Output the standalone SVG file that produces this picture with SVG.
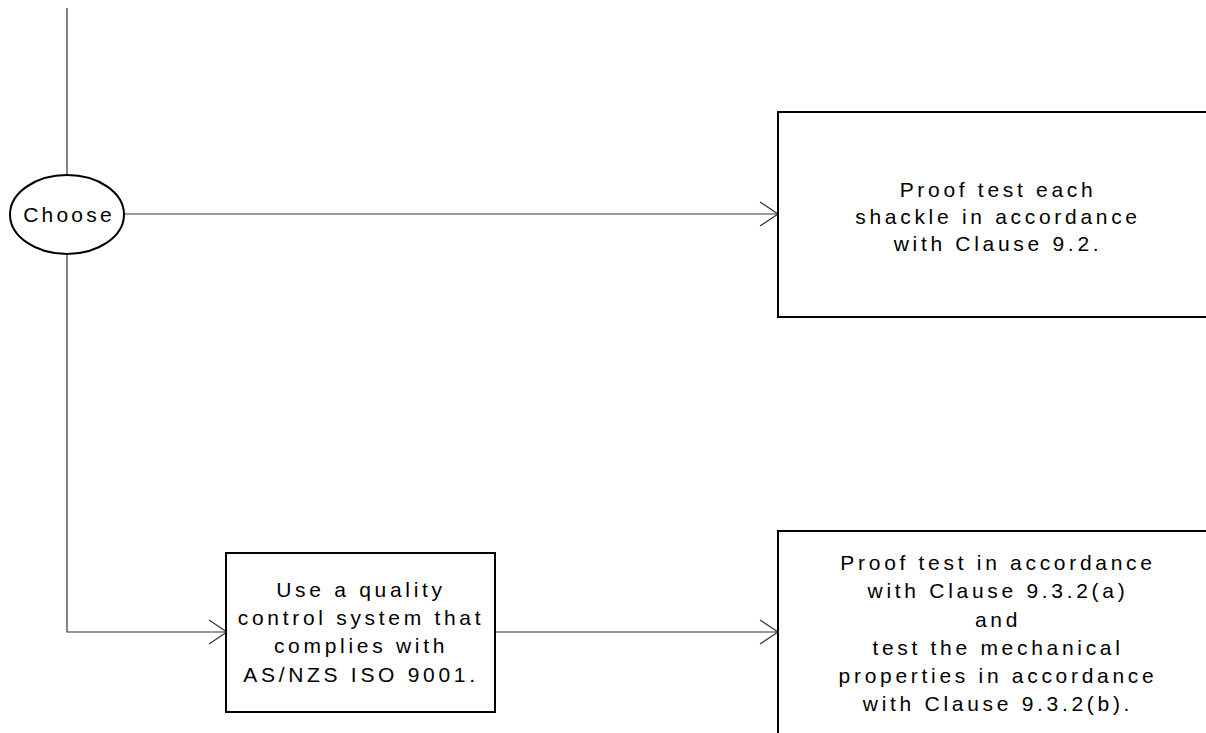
<svg xmlns="http://www.w3.org/2000/svg" width="1206" height="733" viewBox="0 0 1206 733">
<style>
.box{fill:#fff;stroke:#000;stroke-width:2}
.ln{fill:none;stroke:#333;stroke-width:1.2}
.t{font-family:"Liberation Sans",Arial,sans-serif;font-size:21px;letter-spacing:3.7px;fill:#000;text-anchor:middle}
</style>
<defs>
<marker id="ah" markerUnits="userSpaceOnUse" markerWidth="24" markerHeight="30" refX="19" refY="13" orient="auto" overflow="visible">
<path d="M1,1 L19,13 L1,25" fill="none" stroke="#333" stroke-width="1.2"/>
</marker>
</defs>
<rect width="1206" height="733" fill="#fff"/>
<g id="connectors">
<line class="ln" x1="67" y1="8" x2="67" y2="175"/>
<line class="ln" x1="124" y1="214" x2="778" y2="214" marker-end="url(#ah)"/>
<polyline class="ln" points="67,254 67,632 227,632" marker-end="url(#ah)"/>
<line class="ln" x1="495" y1="632" x2="778" y2="632" marker-end="url(#ah)"/>
</g>
<g id="choose">
<ellipse cx="67" cy="214.5" rx="57" ry="39.5" fill="#fff" stroke="#000" stroke-width="2"/>
<text class="t" x="69" y="222" style="letter-spacing:3.2px">Choose</text>
</g>
<g id="proof-each">
<rect class="box" x="778" y="112" width="440" height="205"/>
<text class="t" x="998" y="197">Proof test each</text>
<text class="t" x="998" y="224">shackle in accordance</text>
<text class="t" x="998" y="251">with Clause 9.2.</text>
</g>
<g id="quality">
<rect class="box" x="226" y="553" width="269" height="159"/>
<text class="t" x="361" y="597">Use a quality</text>
<text class="t" x="361" y="625">control system that</text>
<text class="t" x="361" y="653">complies with</text>
<text class="t" x="361" y="682">AS/NZS ISO 9001.</text>
</g>
<g id="proof-mech">
<rect class="box" x="778" y="531" width="440" height="220"/>
<text class="t" x="998" y="570">Proof test in accordance</text>
<text class="t" x="998" y="598">with Clause 9.3.2(a)</text>
<text class="t" x="998" y="627">and</text>
<text class="t" x="998" y="655">test the mechanical</text>
<text class="t" x="998" y="683">properties in accordance</text>
<text class="t" x="998" y="711">with Clause 9.3.2(b).</text>
</g>
</svg>
